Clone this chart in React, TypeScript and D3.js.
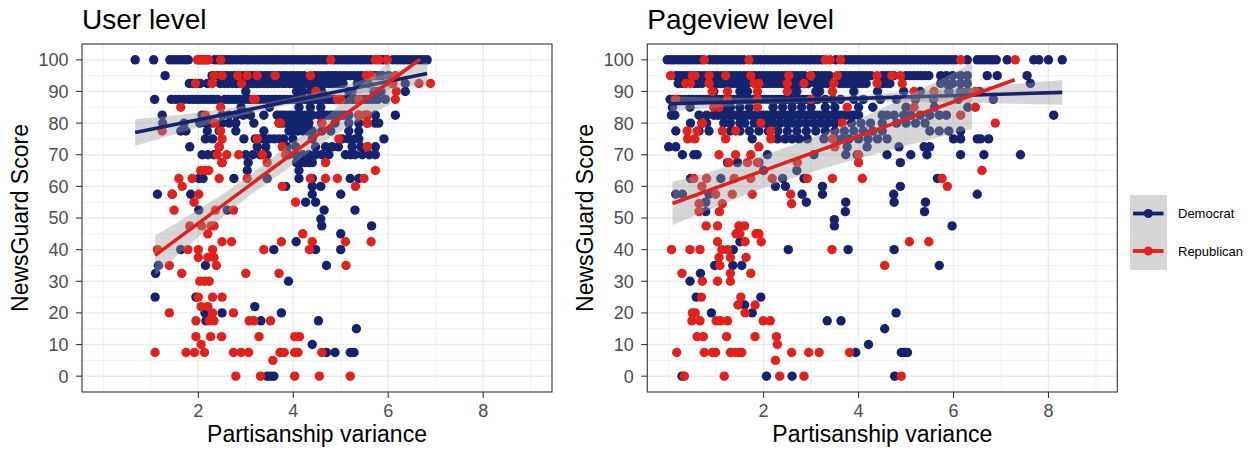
import React from 'react';
import * as d3 from 'd3';

const W = 1253;
const H = 450;
const NAVY = '#14236E';
const RED = '#E2211C';
const FONT = '"Liberation Sans", Arial, Helvetica, sans-serif';

const panelTitles = ['User level', 'Pageview level'];
const xLabel = 'Partisanship variance';
const yLabel = 'NewsGuard Score';
const legendLabels = ['Democrat', 'Republican'];
const xTicks = [2, 4, 6, 8];
const xMinor = [0, 1, 3, 5, 7, 9];
const yTicks = [0, 10, 20, 30, 40, 50, 60, 70, 80, 90, 100];
const yMinor = [5, 15, 25, 35, 45, 55, 65, 75, 85, 95];

type Rows = [number, number[]][];

// ---------- User level ----------
const userDem: Rows = [
  [100, [0.67, 1.06, 1.4, 1.48, 1.56, 1.64, 1.72, 1.79, 2.02, 2.1, 2.18, 2.34, 2.42, 2.5, 2.57, 2.65, 2.72, 2.8, 2.88, 2.95, 3.03, 3.1, 3.18, 3.26, 3.33, 3.41, 3.48, 3.56, 3.63, 3.71, 3.79, 3.86, 3.94, 4.01, 4.09, 4.17, 4.24, 4.32, 4.4, 4.47, 4.55, 4.63, 4.7, 4.86, 4.94, 5.02, 5.1, 5.17, 5.25, 5.33, 5.41, 5.48, 5.56, 5.64, 5.88, 5.96, 6.1, 6.18, 6.26, 6.34, 6.42, 6.5, 6.58, 6.66, 6.74, 6.82]],
  [95, [1.3, 2.29, 2.36, 2.44, 2.56, 2.63, 2.71, 2.78, 2.86, 2.95, 3.1, 3.17, 3.32, 3.4, 3.47, 3.55, 3.62, 3.7, 3.78, 3.85, 3.93, 4.0, 4.08, 4.15, 4.23, 4.45, 4.52, 4.6, 4.68, 4.75, 4.83, 4.9, 4.98, 5.06, 5.13, 5.21, 5.28, 5.36, 5.44, 5.64, 5.72, 5.8, 5.88, 6.01]],
  [92.5, [1.81, 1.88, 1.95, 2.04, 2.19, 2.46, 2.55, 2.63, 2.72, 2.8, 2.88, 2.95, 3.09, 3.16, 3.24, 3.31, 3.39, 3.46, 3.54, 3.61, 3.69, 3.77, 3.84, 3.92, 3.99, 4.07, 4.14, 4.22, 4.3, 4.37, 4.45, 4.52, 4.6, 4.67, 4.75, 4.83, 4.9, 4.98, 5.05, 5.35, 5.45, 5.58, 6.08, 6.36]],
  [90, [3.0, 4.07, 4.13, 4.2, 4.36, 4.6, 5.17, 5.24, 5.7, 5.78, 5.85, 6.36]],
  [87.5, [1.08, 1.43, 1.52, 1.6, 1.7, 1.8, 1.88, 1.95, 2.03, 2.1, 2.18, 2.26, 2.33, 2.41, 2.56, 2.64, 2.71, 2.79, 2.87, 2.94, 3.02, 3.1, 3.25, 3.33, 3.4, 3.48, 3.56, 3.63, 3.71, 3.79, 3.86, 3.94, 4.02, 4.09, 4.17, 4.25, 4.32, 4.4, 4.48, 4.55, 4.63, 4.71, 4.78, 4.86, 5.0, 5.08, 5.16, 5.24, 5.31, 5.46, 5.54, 5.62, 5.7, 5.78, 5.94]],
  [85, [2.9, 3.5, 4.12, 4.36, 4.58]],
  [82.5, [1.24, 2.08, 2.5, 2.64, 2.8, 2.95, 3.1, 3.38, 3.66, 3.74, 3.82, 3.9, 3.97, 4.05, 4.13, 4.2, 4.28, 4.4, 4.55, 4.63, 4.7, 4.78, 4.86, 4.95, 5.03, 5.1, 5.17, 5.38, 5.56, 5.73, 6.15]],
  [80, [1.25, 1.7, 2.03, 2.15, 2.29, 2.5, 2.65, 2.79, 3.17, 3.7, 3.78, 3.86, 3.94, 4.02, 4.1, 4.17, 4.25, 4.33, 4.6, 4.88, 5.17, 5.38, 5.56, 5.73, 5.8]],
  [77.5, [1.63, 1.74, 2.19, 2.44, 2.79, 3.38, 3.91, 4.0, 4.1, 4.2, 4.3, 4.4, 4.6, 4.79, 5.17, 5.38]],
  [75, [2.15, 2.3, 2.96, 3.2, 3.3, 3.4, 3.5, 3.6, 3.7, 3.8, 3.99, 4.4, 5.03, 5.17, 5.31, 5.38, 5.91]],
  [72.5, [1.82, 2.44, 3.24, 3.42, 3.87, 4.05, 4.47, 4.68, 4.82, 4.95, 5.24, 5.42, 5.56, 5.73]],
  [70, [2.08, 2.2, 2.33, 3.0, 3.15, 3.3, 3.45, 3.9, 4.05, 4.2, 4.33, 4.47, 4.6, 4.75, 5.1, 5.2, 5.3, 5.45, 5.6, 5.73]],
  [67.5, [2.5, 3.05, 4.07, 4.15, 4.24, 4.33, 4.4]],
  [65, [3.03, 4.12]],
  [62.5, [2.01, 2.1, 2.75, 3.45, 4.12, 4.4, 5.2, 5.38]],
  [60, [3.84, 4.4, 4.58]],
  [57.5, [1.14, 1.45, 1.84, 4.4, 5.0]],
  [55, [4.26, 4.47]],
  [52.5, [2.01, 2.61, 4.65, 5.3]],
  [49.7, [4.58]],
  [47.5, [4.6, 5.65]],
  [45, [5.0]],
  [42.5, [4.06]],
  [40, [1.63, 3.59, 4.47, 5.0]],
  [35, [1.16, 2.15, 4.7]],
  [32.5, [1.1]],
  [30, [3.9]],
  [25, [1.09, 1.95]],
  [22, [3.19]],
  [20, [2.14, 2.5, 3.75]],
  [17.5, [2.16, 3.32, 4.53]],
  [15, [5.33]],
  [10, [4.4]],
  [7.5, [4.7, 4.88, 5.2, 5.28]],
  [0, [3.45, 3.52, 3.59]],
];

const userRep: Rows = [
  [100, [1.98, 2.06, 2.14, 2.22, 2.47, 4.79, 5.73, 5.8, 5.98]],
  [95, [2.33, 2.5, 2.83, 3.03, 3.24, 3.62, 4.36, 5.54, 5.65, 6.15]],
  [92.5, [1.94, 2.29, 2.91, 6.1, 6.65, 6.89]],
  [90, [4.48, 6.17]],
  [87.5, [3.16, 3.2, 4.93, 5.0, 5.38, 6.15]],
  [85, [1.63, 2.47]],
  [82.5, [2.15, 5.38, 5.5, 5.56]],
  [80, [2.35, 3.7, 3.73, 4.6, 5.56]],
  [77.5, [1.24, 2.47]],
  [75, [2.5, 3.24, 4.96]],
  [72.5, [2.44, 3.77, 5.56]],
  [70, [2.4, 2.6, 2.85, 3.35, 3.84]],
  [67.5, [2.5, 3.45, 4.68]],
  [65, [2.05, 2.15, 2.22, 5.73]],
  [62.5, [1.59, 1.87, 2.44, 3.03, 4.36, 4.68, 4.93, 5.49]],
  [60, [1.66, 3.77, 5.31]],
  [57.5, [1.45, 2.01]],
  [55, [1.91, 4.05]],
  [52.5, [1.49, 2.36, 2.74]],
  [47.5, [1.82, 2.07, 2.27, 2.33]],
  [45, [2.2, 4.2]],
  [42.5, [2.5, 2.7, 3.75, 4.4, 5.1, 5.64]],
  [40, [1.14, 1.78, 2.0, 2.3, 3.38, 4.34]],
  [37.5, [2.0, 2.2, 2.33]],
  [35, [1.39, 2.38, 5.11]],
  [32.5, [1.65, 3.0, 3.7]],
  [30, [2.03, 2.13, 2.23]],
  [25, [2.0, 2.3, 2.5]],
  [22, [2.06, 2.2]],
  [20, [1.39, 2.3, 2.74]],
  [17.5, [1.95, 2.23, 2.33, 3.07, 3.17, 3.52]],
  [12.5, [1.95, 2.26, 2.49, 3.28, 4.03, 4.13]],
  [10, [2.06]],
  [7.5, [1.09, 1.74, 1.92, 2.13, 2.74, 2.9, 3.06, 3.72, 3.81, 4.03, 4.1, 4.6]],
  [5, [3.57]],
  [0, [2.79, 3.31, 4.03, 4.55, 5.2]],
];

// ---------- Pageview level ----------
const pageDem: Rows = [
  [100, [-0.03, 0.05, 0.12, 0.2, 0.28, 0.36, 0.44, 0.52, 0.6, 0.68, 0.86, 0.94, 1.02, 1.1, 1.18, 1.26, 1.34, 1.42, 1.5, 1.58, 1.78, 1.86, 1.94, 2.02, 2.1, 2.18, 2.26, 2.34, 2.42, 2.5, 2.58, 2.66, 2.74, 2.82, 2.9, 2.98, 3.06, 3.14, 3.22, 3.52, 3.72, 3.8, 3.88, 3.96, 4.04, 4.12, 4.2, 4.28, 4.36, 4.44, 4.52, 4.6, 4.68, 4.76, 4.84, 4.92, 5.0, 5.08, 5.16, 5.24, 5.32, 5.4, 5.48, 5.56, 5.64, 5.72, 5.8, 5.88, 5.96, 6.04, 6.29, 6.5, 6.58, 6.66, 6.74, 6.82, 6.9, 7.13, 7.69, 7.8, 8.0, 8.29]],
  [95, [0.15, 0.22, 0.3, 0.38, 0.46, 0.54, 0.62, 0.7, 0.78, 0.86, 0.94, 1.02, 1.1, 1.18, 1.26, 1.34, 1.42, 1.5, 1.58, 1.66, 1.74, 1.82, 1.9, 1.98, 2.06, 2.14, 2.22, 2.3, 2.38, 2.46, 2.54, 2.62, 2.7, 2.78, 2.86, 3.06, 3.14, 3.22, 3.3, 3.38, 3.62, 3.7, 3.78, 3.86, 3.94, 4.02, 4.1, 4.18, 4.26, 4.5, 4.58, 4.66, 4.74, 5.0, 5.08, 5.16, 5.24, 5.32, 5.4, 5.48, 5.73, 5.85, 5.98, 6.15, 6.29, 6.71, 6.92, 7.55]],
  [92.5, [0.2, 0.28, 0.55, 0.62, 0.7, 0.95, 1.03, 1.1, 1.18, 1.26, 1.34, 1.42, 1.5, 1.58, 1.66, 1.98, 2.06, 2.14, 2.22, 2.3, 2.38, 2.46, 2.62, 2.7, 2.78, 2.86, 2.94, 3.1, 3.18, 3.26, 3.34, 3.6, 3.68, 3.76, 3.84, 3.92, 4.0, 4.08, 4.16, 4.5, 4.58, 4.66, 5.73, 5.85, 5.98, 6.15, 6.29, 7.62]],
  [90, [0.95, 1.5, 1.58, 1.66, 2.55, 2.7, 3.1, 3.18, 3.9, 4.4, 4.95, 5.3, 5.9, 6.15, 6.3, 6.55]],
  [87.5, [0.03, 0.1, 0.18, 0.26, 0.34, 0.42, 0.5, 0.58, 0.66, 0.74, 0.82, 0.9, 0.98, 1.06, 1.14, 1.22, 1.3, 1.38, 1.46, 1.54, 1.62, 1.7, 1.78, 1.86, 1.94, 2.02, 2.1, 2.18, 2.26, 2.34, 2.42, 2.5, 2.58, 2.66, 2.74, 2.82, 2.9, 2.98, 3.06, 3.14, 3.3, 3.46, 3.62, 3.9, 4.1, 4.46, 4.8, 5.2, 5.58, 6.1, 6.84]],
  [85, [0.08, 0.45, 1.0, 1.2, 1.3, 1.5, 1.7, 2.2, 2.4, 2.6, 2.8, 3.0, 3.3, 3.5, 4.0, 4.3, 5.0, 5.6, 6.3]],
  [82.5, [0.06, 0.13, 0.64, 0.8, 0.95, 1.03, 1.1, 1.18, 1.26, 1.34, 1.42, 1.5, 1.58, 1.66, 1.74, 1.82, 1.9, 1.98, 2.06, 2.14, 2.22, 2.3, 2.38, 2.46, 2.54, 2.62, 2.7, 2.78, 2.86, 2.94, 3.02, 3.1, 3.18, 3.26, 3.34, 3.42, 3.5, 3.58, 3.66, 3.74, 3.82, 3.9, 4.0, 4.5, 4.6, 4.75, 4.95, 5.1, 5.3, 5.5, 5.7, 5.85, 8.11]],
  [80, [0.46, 0.7, 0.8, 1.16, 1.3, 1.5, 1.6, 1.8, 2.0, 2.1, 2.2, 2.35, 2.5, 2.6, 2.75, 2.9, 3.05, 3.2, 3.35, 3.5, 3.85, 4.05, 4.25, 4.5, 4.8, 5.0, 5.2, 5.4]],
  [77.5, [0.15, 0.64, 0.85, 1.3, 1.5, 1.7, 1.9, 2.1, 2.3, 2.5, 2.7, 2.9, 3.1, 3.3, 3.5, 3.7, 3.9, 4.1, 4.3, 4.5, 5.5, 5.7, 5.9, 6.15]],
  [75, [1.76, 2.29, 2.45, 2.6, 2.75, 2.92, 3.27, 3.5, 3.65, 3.8, 4.0, 4.2, 4.4, 4.6, 6.0, 6.15, 6.5, 6.57, 6.74]],
  [72.5, [0.0, 0.15, 3.76, 4.18, 4.85, 5.38, 5.5]],
  [70, [0.29, 0.53, 0.6, 2.08, 3.06, 3.73, 3.97, 4.6, 5.1, 5.44, 6.15, 6.64, 7.41]],
  [67.5, [1.24, 1.45, 1.9, 4.88]],
  [65, [2.0, 2.7]],
  [62.5, [0.46, 1.1, 2.4, 2.85, 5.66]],
  [60, [2.25, 2.46, 3.24, 4.88]],
  [57.5, [0.15, 0.29, 0.85, 2.81, 3.24, 4.74, 6.5]],
  [55, [0.78, 2.9, 3.73, 4.75, 5.41]],
  [52, [0.78, 3.72, 5.39]],
  [49.5, [3.49]],
  [47.5, [3.49, 5.97]],
  [42.5, [1.5]],
  [40, [1.36, 2.52, 3.78, 4.75]],
  [35, [0.97, 1.35, 1.54, 5.7]],
  [32.5, [0.67]],
  [30, [0.45]],
  [25, [0.58, 1.94]],
  [22.5, [1.6]],
  [20, [0.9, 1.76, 4.79]],
  [17.5, [3.34, 3.63]],
  [15, [4.55]],
  [10, [4.21]],
  [7.5, [3.94, 4.9, 4.97, 5.03]],
  [0, [0.28, 2.06, 2.6, 4.76]],
];

const pageRep: Rows = [
  [100, [0.75, 1.69, 3.3, 3.4, 3.62, 6.15, 7.3]],
  [95, [0.04, 0.5, 0.55, 0.85, 1.2, 1.73, 2.53, 2.99, 3.55, 4.39, 4.7, 4.88]],
  [92.5, [0.36, 0.46, 0.85, 1.8, 1.9, 2.5, 2.85, 3.48, 4.39, 4.92]],
  [90, [0.92, 1.24, 1.87, 2.5, 3.45, 5.17, 5.59, 6.46]],
  [87.5, [0.15, 1.24, 1.87, 3.0]],
  [85, [0.95, 1.06, 1.87, 3.76, 5.17, 6.46]],
  [82.5, [6.15]],
  [80, [0.71, 1.94, 3.66, 6.88]],
  [77.5, [0.39, 0.6, 1.13, 1.41, 2.15]],
  [75, [0.4, 0.55, 1.2, 2.15, 3.45]],
  [72.5, [1.9, 3.5]],
  [70, [1.06, 1.41, 1.73, 4.0]],
  [67.5, [1.27, 1.66, 1.87, 2.71, 4.0]],
  [65, [6.6]],
  [62.5, [0.53, 0.8, 1.38, 1.73, 2.18, 2.92, 3.45, 4.08, 5.76]],
  [60, [0.7, 5.87]],
  [57.5, [0.99, 1.34, 1.76, 2.57]],
  [54.5, [0.64, 1.13, 2.59]],
  [52, [0.64, 1.07]],
  [47.5, [0.79, 1.03, 1.48, 1.6]],
  [45, [1.42, 1.5, 1.84, 1.9]],
  [42.5, [1.03, 1.61, 1.95, 5.07, 5.48]],
  [40, [0.06, 0.45, 0.66, 1.12, 1.24, 3.44]],
  [37.5, [1.06, 1.3, 1.63]],
  [35, [1.08, 4.55]],
  [32.5, [0.28, 1.3, 1.73]],
  [30, [0.71, 1.03, 1.3]],
  [25, [0.69, 1.52]],
  [22.5, [1.46, 1.82]],
  [20, [0.5, 0.56, 1.61]],
  [17.5, [0.49, 0.66, 1.0, 1.09, 1.24, 1.99, 2.14]],
  [12.5, [0.6, 0.73, 1.22, 1.82, 2.27]],
  [10, [2.29]],
  [7.5, [0.17, 0.75, 0.92, 0.99, 1.3, 1.4, 1.47, 1.54, 2.59, 2.95, 3.17, 3.81]],
  [5, [2.25]],
  [0, [0.33, 1.17, 2.34, 2.85, 4.9]],
];

// ---------- linear fits ----------
const userDemLine: [number, number][] = [[0.67, 77.0], [6.82, 95.7]];
const userDemBandX = [0.67, 1.5, 2.5, 3.5, 4.5, 5.5, 6.82];
const userDemLow = [72.8, 76.5, 80.8, 84.5, 87.3, 89.6, 92.2];
const userDemHigh = [81.2, 82.5, 84.4, 86.7, 89.9, 93.8, 99.2];

const userRepLine: [number, number][] = [[1.09, 38.2], [6.67, 100.2]];
const userRepBandX = [1.09, 2, 3, 3.8, 4.5, 5.5, 6.05];
const userRepLow = [31.9, 43.9, 56.2, 64.7, 72.6, 81.5, 86.0];
const userRepHigh = [44.5, 52.7, 62.6, 71.9, 79.6, 92.9, 99.6];

const pageDemLine: [number, number][] = [[0.04, 86.1], [8.29, 89.7]];
const pageDemBandX = [0.04, 1, 2, 3, 4, 5, 6, 7, 8.29];
const pageDemLow = [83.7, 84.9, 86.0, 86.6, 86.8, 86.8, 86.6, 86.2, 85.8];
const pageDemHigh = [88.5, 88.1, 88.0, 88.2, 88.8, 89.8, 90.8, 92.0, 93.6];

const pageRepLine: [number, number][] = [[0.08, 54.6], [7.29, 93.7]];
const pageRepBandX = [0.08, 1, 2, 3, 4, 5, 6.39];
const pageRepLow = [47.8, 53.5, 59.5, 64.5, 68.8, 72.8, 78.2];
const pageRepHigh = [61.4, 65.2, 69.8, 75.2, 81.3, 88.3, 99.1];

type Band = { xs: number[]; lo: number[]; hi: number[] };

const PANEL_W = 470;
const PANEL_TOP = 44;
const PANEL_BOTTOM = 392;

function flatten(rows: Rows): [number, number][] {
  const out: [number, number][] = [];
  rows.forEach(([yv, xs]) => xs.forEach((xv) => out.push([xv, yv])));
  return out;
}

function Panel(props: {
  x0: number;
  idx: number;
  title: string;
  dem: Rows;
  rep: Rows;
  demLine: [number, number][];
  repLine: [number, number][];
  demBand: Band;
  repBand: Band;
}) {
  const { x0, idx, title, dem, rep, demLine, repLine, demBand, repBand } = props;
  const x = d3.scaleLinear().domain([-0.45, 9.45]).range([x0, x0 + PANEL_W]);
  const y = d3.scaleLinear().domain([-5, 105]).range([PANEL_BOTTOM, PANEL_TOP]);
  const clipId = `clip-${idx}`;

  const area = (b: Band) =>
    d3
      .area<number>()
      .x((_, i) => x(b.xs[i]))
      .y0((_, i) => y(b.lo[i]))
      .y1((_, i) => y(b.hi[i]))
      .curve(d3.curveMonotoneX)(b.xs) || '';
  const line = d3
    .line<[number, number]>()
    .x((d) => x(d[0]))
    .y((d) => y(d[1]));

  const demPts = flatten(dem);
  const repPts = flatten(rep);

  return (
    <g>
      <defs>
        <clipPath id={clipId}>
          <rect x={x0} y={PANEL_TOP} width={PANEL_W} height={PANEL_BOTTOM - PANEL_TOP} />
        </clipPath>
      </defs>
      <rect x={x0} y={PANEL_TOP} width={PANEL_W} height={PANEL_BOTTOM - PANEL_TOP} fill="#fff" />
      {yMinor.map((t) => (
        <line key={`ym${t}`} x1={x0} x2={x0 + PANEL_W} y1={y(t)} y2={y(t)} stroke="#EBEBEB" strokeWidth={0.7} />
      ))}
      {xMinor.map((t) => (
        <line key={`xm${t}`} y1={PANEL_TOP} y2={PANEL_BOTTOM} x1={x(t)} x2={x(t)} stroke="#EBEBEB" strokeWidth={0.7} />
      ))}
      {yTicks.map((t) => (
        <line key={`yM${t}`} x1={x0} x2={x0 + PANEL_W} y1={y(t)} y2={y(t)} stroke="#EBEBEB" strokeWidth={1.4} />
      ))}
      {xTicks.map((t) => (
        <line key={`xM${t}`} y1={PANEL_TOP} y2={PANEL_BOTTOM} x1={x(t)} x2={x(t)} stroke="#EBEBEB" strokeWidth={1.4} />
      ))}
      <g clipPath={`url(#${clipId})`}>
        {demPts.map((d, i) => (
          <circle key={`d${i}`} cx={x(d[0])} cy={y(d[1])} r={4.7} fill={NAVY} />
        ))}
        {repPts.map((d, i) => (
          <circle key={`r${i}`} cx={x(d[0])} cy={y(d[1])} r={4.7} fill={RED} />
        ))}
        <path d={area(demBand)} fill="#999999" fillOpacity={0.4} />
        <path d={line(demLine) || ''} stroke={NAVY} strokeWidth={3.6} fill="none" />
        <path d={area(repBand)} fill="#999999" fillOpacity={0.4} />
        <path d={line(repLine) || ''} stroke={RED} strokeWidth={3.6} fill="none" />
      </g>
      <rect x={x0} y={PANEL_TOP} width={PANEL_W} height={PANEL_BOTTOM - PANEL_TOP} fill="none" stroke="#333333" strokeWidth={1.1} />
      {yTicks.map((t) => (
        <g key={`yt${t}`}>
          <line x1={x0 - 6} x2={x0} y1={y(t)} y2={y(t)} stroke="#333333" strokeWidth={1.1} />
          <text x={x0 - 13.5} y={y(t)} dy="0.36em" textAnchor="end" fontSize={18} fill="#4D4D4D" fontFamily={FONT}>
            {t}
          </text>
        </g>
      ))}
      {xTicks.map((t) => (
        <g key={`xt${t}`}>
          <line x1={x(t)} x2={x(t)} y1={PANEL_BOTTOM} y2={PANEL_BOTTOM + 6} stroke="#333333" strokeWidth={1.1} />
          <text x={x(t)} y={416.5} textAnchor="middle" fontSize={18} fill="#4D4D4D" fontFamily={FONT}>
            {t}
          </text>
        </g>
      ))}
      <text x={x0} y={28.5} fontSize={28} fill="#000" fontFamily={FONT}>
        {title}
      </text>
      <text x={x0 + PANEL_W / 2} y={442} textAnchor="middle" fontSize={23} fill="#000" fontFamily={FONT}>
        {xLabel}
      </text>
      <text
        transform={`translate(${x0 - 54},${(PANEL_TOP + PANEL_BOTTOM) / 2}) rotate(-90)`}
        textAnchor="middle"
        fontSize={23}
        fill="#000"
        fontFamily={FONT}
      >
        {yLabel}
      </text>
    </g>
  );
}

export default function App() {
  const legendColors = [NAVY, RED];
  const keyY = [195, 232.5];
  return (
    <svg width={W} height={H} style={{ position: 'absolute', left: 0, top: 0, background: '#fff' }}>
      <rect x={0} y={0} width={W} height={H} fill="#fff" />
      <Panel
        x0={82}
        idx={0}
        title={panelTitles[0]}
        dem={userDem}
        rep={userRep}
        demLine={userDemLine}
        repLine={userRepLine}
        demBand={{ xs: userDemBandX, lo: userDemLow, hi: userDemHigh }}
        repBand={{ xs: userRepBandX, lo: userRepLow, hi: userRepHigh }}
      />
      <Panel
        x0={647.3}
        idx={1}
        title={panelTitles[1]}
        dem={pageDem}
        rep={pageRep}
        demLine={pageDemLine}
        repLine={pageRepLine}
        demBand={{ xs: pageDemBandX, lo: pageDemLow, hi: pageDemHigh }}
        repBand={{ xs: pageRepBandX, lo: pageRepLow, hi: pageRepHigh }}
      />
      <g>
        {legendLabels.map((lab, i) => (
          <g key={lab}>
            <rect x={1130} y={keyY[i]} width={37} height={37.5} fill="#999999" fillOpacity={0.4} />
            <line x1={1133} x2={1163.5} y1={keyY[i] + 18.5} y2={keyY[i] + 18.5} stroke={legendColors[i]} strokeWidth={3.8} />
            <circle cx={1148.3} cy={keyY[i] + 18.5} r={4.5} fill={legendColors[i]} />
            <text x={1178} y={keyY[i] + 18.5} dy="0.36em" fontSize={13} fill="#000" fontFamily={FONT}>
              {lab}
            </text>
          </g>
        ))}
      </g>
    </svg>
  );
}
